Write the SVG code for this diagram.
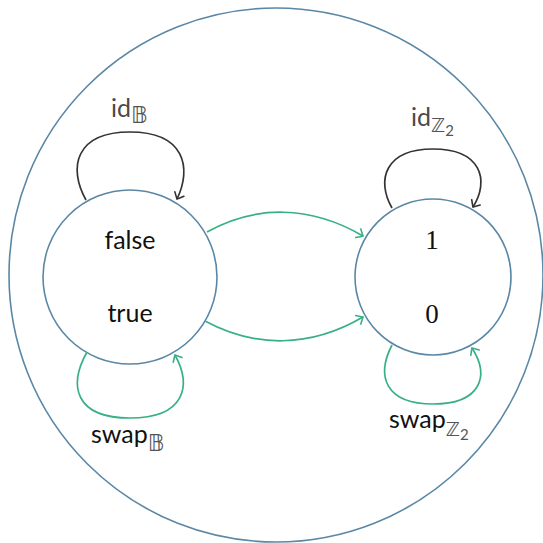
<svg xmlns="http://www.w3.org/2000/svg" width="543" height="543" viewBox="0 0 543 543">
  <style>
    .ring { fill: none; stroke: #5a87a6; stroke-width: 1.6; }
    .node { fill: #ffffff; stroke: #5a87a6; stroke-width: 1.6; }
    .map { fill: none; stroke: #38b087; stroke-width: 1.7; }
    .idloop { fill: none; stroke: #333333; stroke-width: 1.7; }
    .lbl { font-family: Lato, "Open Sans", "DejaVu Sans", sans-serif; font-size: 25px; fill: #111111; }
    .num { font-family: "Liberation Serif", "DejaVu Serif", serif; font-size: 27px; fill: #111111; }
    .sub { font-family: "DejaVu Sans", "Noto Sans", sans-serif; font-size: 19px; fill: #555555; }
    .bb { font-size: 23px; }
    .two { font-family: Lato, "Open Sans", sans-serif; font-size: 15px; fill: #555555; }
    .idtxt { fill: #4a4a4a; }
  </style>
  <defs>
    <marker id="toG" markerUnits="userSpaceOnUse" markerWidth="14" markerHeight="14" refX="0" refY="0" viewBox="-7 -7 14 14" orient="auto">
      <path d="M-5.5,-5 Q-1.5,-1.5 0,0 Q-1.5,1.5 -5.5,5" fill="none" stroke="#38b087" stroke-width="1.6" stroke-linecap="round"/>
    </marker>
    <marker id="toK" markerUnits="userSpaceOnUse" markerWidth="14" markerHeight="14" refX="0" refY="0" viewBox="-7 -7 14 14" orient="auto">
      <path d="M-5.5,-5 Q-1.5,-1.5 0,0 Q-1.5,1.5 -5.5,5" fill="none" stroke="#333333" stroke-width="1.6" stroke-linecap="round"/>
    </marker>
  </defs>

  <!-- enclosing category -->
  <circle class="ring" cx="276" cy="275" r="267"/>

  <!-- objects -->
  <g id="bool">
    <circle class="node" cx="130" cy="277" r="87"/>
    <text class="lbl" x="130" y="249" text-anchor="middle">false</text>
    <text class="lbl" x="130" y="322" text-anchor="middle">true</text>
  </g>
  <g id="z2">
    <circle class="node" cx="433" cy="277" r="78"/>
    <text class="num" x="432" y="249" text-anchor="middle">1</text>
    <text class="num" x="432" y="323" text-anchor="middle">0</text>
  </g>

  <!-- morphisms -->
  <g id="connectors">
    <path class="idloop" d="M86,200 C68,168 75,132 130,132 C185,132 192,168 177,199" marker-end="url(#toK)"/>
    <path class="idloop" d="M392,208 C376,180 385,149 433,149 C481,149 490,180 473,207" marker-end="url(#toK)"/>
    <path class="map" d="M87,352 C68,386 75,418 130,418 C185,418 192,386 175,355" marker-end="url(#toG)"/>
    <path class="map" d="M392,345 C376,376 385,404 433,404 C481,404 490,376 472,348" marker-end="url(#toG)"/>
    <path class="map" d="M207,232 C255,205 310,205 363,236" marker-end="url(#toG)"/>
    <path class="map" d="M205,321 C255,348 310,348 363,317" marker-end="url(#toG)"/>
  </g>

  <!-- morphism labels -->
  <g id="labels">
    <text class="lbl idtxt" x="111" y="117">id<tspan class="sub bb" dy="6">𝔹</tspan></text>
    <text class="lbl idtxt" x="411" y="126">id<tspan class="sub" dy="6">ℤ</tspan><tspan class="two" dy="4">2</tspan></text>
    <text class="lbl" x="91" y="443">swap<tspan class="sub bb" dy="8">𝔹</tspan></text>
    <text class="lbl" x="389" y="428">swap<tspan class="sub" dy="8">ℤ</tspan><tspan class="two" dy="4">2</tspan></text>
  </g>
</svg>
